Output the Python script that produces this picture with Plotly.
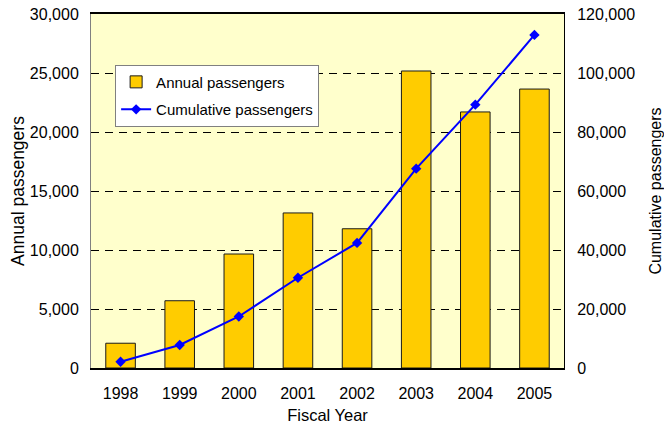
import plotly.graph_objects as go

# Fiscal years and passenger counts
years = ["1998", "1999", "2000", "2001", "2002", "2003", "2004", "2005"]
annual_passengers = [2100, 5700, 9660, 13140, 11800, 25170, 21700, 23640]
cumulative_passengers = [2100, 7800, 17460, 30600, 42400, 67570, 89270, 112910]

left_ticks = [0, 5000, 10000, 15000, 20000, 25000, 30000]
right_ticks = [0, 20000, 40000, 60000, 80000, 100000, 120000]

font_family = "Liberation Sans, Arial, sans-serif"

fig = go.Figure()

fig.add_trace(go.Bar(
    x=years, y=annual_passengers, name="Annual passengers",
    legendgroup="annual",
    marker=dict(color="#FFCC00", line=dict(color="#1a1a1a", width=1)),
    width=0.5,
))

fig.add_trace(go.Scatter(
    x=years, y=cumulative_passengers, name="Cumulative passengers",
    legendgroup="cumulative",
    yaxis="y2", mode="lines+markers",
    line=dict(color="#0000FF", width=2),
    marker=dict(symbol="diamond", size=8, color="#0000FF"),
))

fig.update_layout(
    width=664, height=427,
    margin=dict(l=91, r=100, t=14, b=59, autoexpand=False),
    paper_bgcolor="white",
    plot_bgcolor="#FFFFCC",
    font=dict(family=font_family, size=16, color="black"),
    showlegend=True,
    legend=dict(
        x=0.051, y=0.857, xanchor="left", yanchor="top",
        bgcolor="white", bordercolor="#808080", borderwidth=1,
        font=dict(size=15), traceorder="grouped", tracegroupgap=5,
    ),
    xaxis=dict(
        title=dict(text="Fiscal Year", font=dict(size=16.5), standoff=8),
        showline=True, linecolor="#000000", linewidth=2, mirror=True,
        showgrid=False, ticks="", tickfont=dict(size=16),
        ticklabelstandoff=10, automargin=False,
    ),
    yaxis=dict(
        title=dict(text="Annual passengers", font=dict(size=17.5), standoff=0),
        range=[0, 30000], tickvals=left_ticks, tickformat=",d",
        showline=True, linecolor="#808080", linewidth=1,
        showgrid=True, gridcolor="#000000", gridwidth=1, griddash="8px,6px",
        zeroline=False, ticks="", ticklabelstandoff=8, automargin=False,
    ),
    yaxis2=dict(
        title=dict(text="Cumulative passengers", font=dict(size=16), standoff=22),
        overlaying="y", side="right",
        range=[0, 120000], tickvals=right_ticks, tickformat=",d",
        showline=True, linecolor="#000000", linewidth=1,
        showgrid=False, zeroline=False, ticks="", ticklabelstandoff=9,
        automargin=False,
    ),
)

fig.write_html("out.html")
